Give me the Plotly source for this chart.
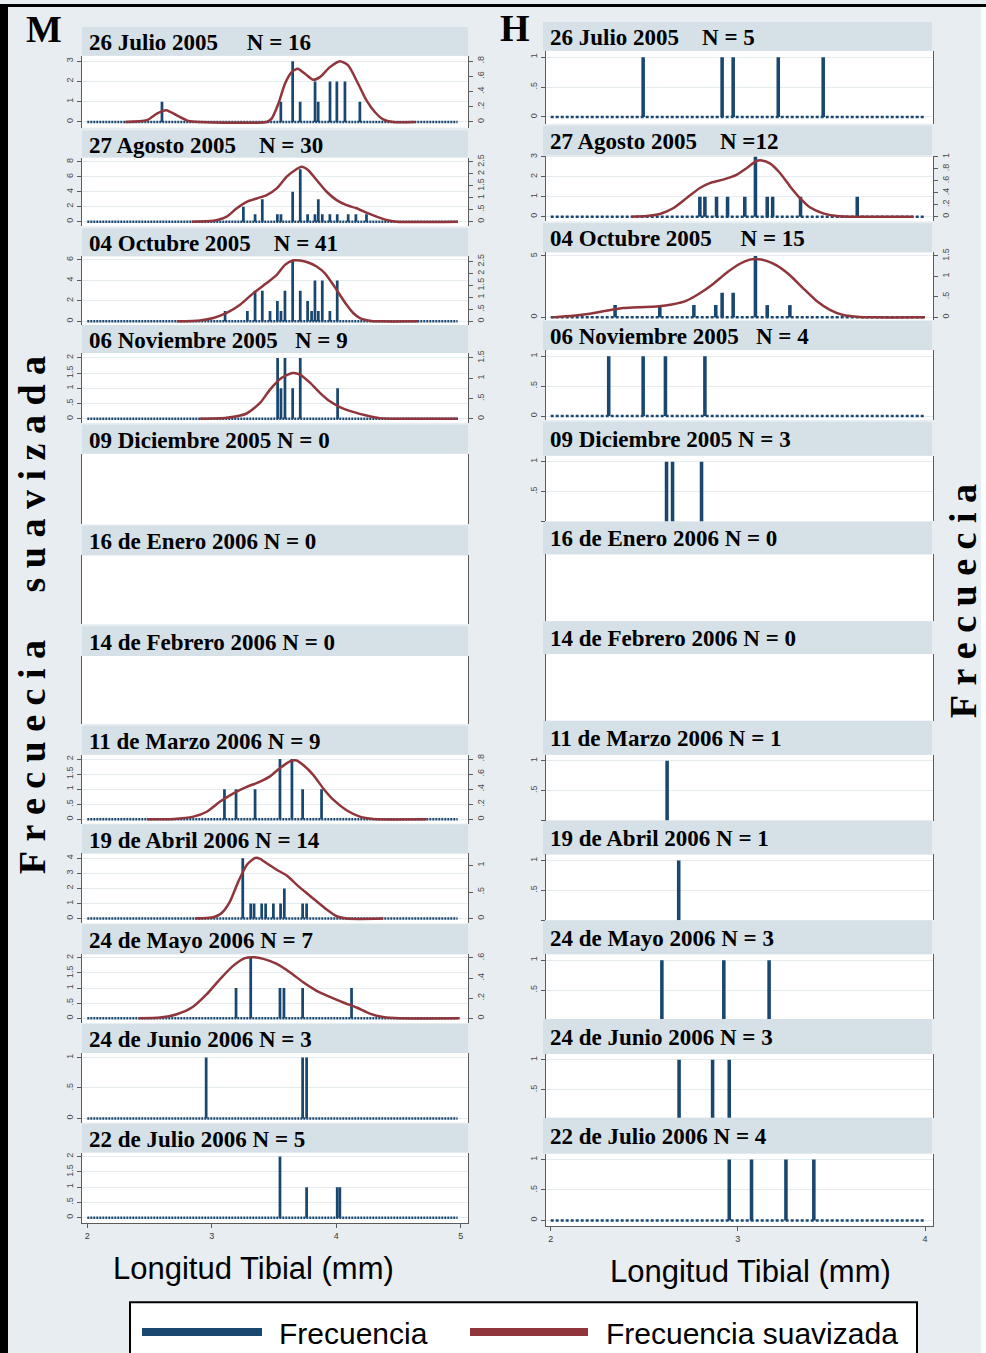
import numpy as np
import plotly.graph_objects as go

W, H = 986, 1353

BG = "#e7edf0"
STRIP = "#d5e0e7"
BLUE = "#1a476f"
RED = "#90353b"
AXIS = "#5c5c5c"
GRID = "#e4ecef"
SERIF = "Liberation Serif"
SANS = "Liberation Sans"
NB = "\u00a0"

# ---------------------------------------------------------------- M (left)
m_titles = [
    "26 Julio 2005" + NB * 5 + "N = 16",
    "27 Agosto 2005" + NB * 4 + "N = 30",
    "04 Octubre 2005" + NB * 4 + "N = 41",
    "06 Noviembre 2005" + NB * 3 + "N = 9",
    "09 Diciembre 2005 N = 0",
    "16 de Enero 2006 N = 0",
    "14 de Febrero 2006 N = 0",
    "11 de Marzo 2006 N = 9",
    "19 de Abril 2006 N = 14",
    "24 de Mayo 2006 N = 7",
    "24 de Junio 2006 N = 3",
    "22 de Julio 2006 N = 5",
]

# tibia length (mm) and number of individuals
m01_len = [2.60, 3.555, 3.65, 3.71, 3.83, 3.855, 3.95, 4.005, 4.07, 4.19]
m01_cnt = [1, 1, 3, 1, 2, 1, 2, 2, 2, 1]
m02_len = [3.254, 3.348, 3.406, 3.527, 3.556, 3.650, 3.711, 3.770, 3.829, 3.856,
           3.888, 3.949, 4.008, 4.096, 4.158, 4.243]
m02_cnt = [2, 1, 3, 1, 1, 4, 7, 1, 1, 3, 1, 1, 1, 1, 1, 1]
m03_len = [3.107, 3.286, 3.348, 3.406, 3.468, 3.527, 3.556, 3.588, 3.650, 3.711,
           3.770, 3.802, 3.829, 3.856, 3.888, 3.949, 4.008]
m03_cnt = [1, 1, 3, 3, 1, 2, 1, 3, 6, 3, 2, 1, 4, 1, 4, 1, 4]
m04_len = [3.529, 3.556, 3.588, 3.650, 3.711, 4.011]
m04_cnt = [2, 1, 2, 1, 2, 1]
m05_len, m05_cnt = [], []
m06_len, m06_cnt = [], []
m07_len, m07_cnt = [], []
m08_len = [3.102, 3.195, 3.348, 3.548, 3.644, 3.730, 3.882]
m08_cnt = [1, 1, 1, 2, 2, 1, 1]
m09_len = [3.249, 3.313, 3.340, 3.401, 3.433, 3.495, 3.553, 3.583, 3.730, 3.762]
m09_cnt = [4, 1, 1, 1, 1, 1, 1, 2, 1, 1]
m10_len = [3.195, 3.313, 3.548, 3.580, 3.730, 4.123]
m10_cnt = [1, 2, 1, 1, 1, 1]
m11_len = [2.955, 3.730, 3.762]
m11_cnt = [1, 1, 1]
m12_len = [3.548, 3.762, 4.008, 4.029]
m12_cnt = [2, 1, 1, 1]

# smoothed frequency (kernel density)
m01_kx = [2.305, 2.479, 2.559, 2.634, 2.719, 2.813, 2.906, 3.441, 3.481, 3.535, 3.588,
          3.642, 3.690, 3.749, 3.815, 3.869, 3.949, 4.029, 4.096, 4.176, 4.243, 4.310,
          4.377, 4.457, 4.631]
m01_ky = [0, 0.022, 0.109, 0.153, 0.087, 0.013, 0, 0, 0.044, 0.240, 0.503, 0.656, 0.699,
          0.634, 0.555, 0.590, 0.721, 0.80, 0.743, 0.503, 0.284, 0.131, 0.035, 0, 0]
m02_kx = [2.840, 3.013, 3.120, 3.201, 3.281, 3.361, 3.441, 3.522, 3.602, 3.668, 3.722,
          3.775, 3.842, 3.923, 4.003, 4.083, 4.163, 4.243, 4.324, 4.404, 4.484, 4.978]
m02_ky = [0, 0.04, 0.21, 0.56, 0.83, 0.97, 1.11, 1.39, 1.88, 2.15, 2.29, 2.15, 1.74,
          1.25, 0.90, 0.69, 0.56, 0.375, 0.21, 0.07, 0, 0]
m03_kx = [2.719, 2.906, 3.013, 3.120, 3.227, 3.334, 3.441, 3.522, 3.588, 3.650, 3.709,
          3.775, 3.842, 3.909, 3.976, 4.029, 4.083, 4.136, 4.190, 4.270, 4.350, 4.657]
m03_ky = [0, 0.04, 0.14, 0.35, 0.69, 1.18, 1.60, 1.94, 2.36, 2.54, 2.54, 2.46, 2.29,
          2.01, 1.53, 1.11, 0.69, 0.35, 0.14, 0.03, 0, 0]
m04_kx = [2.906, 3.120, 3.281, 3.388, 3.468, 3.562, 3.650, 3.709, 3.789, 3.869, 3.949,
          4.029, 4.136, 4.243, 4.350, 4.457, 4.978]
m04_ky = [0, 0.025, 0.13, 0.39, 0.72, 1.01, 1.13, 1.09, 0.89, 0.64, 0.43, 0.29, 0.17,
          0.08, 0.016, 0, 0]
m08_kx = [2.479, 2.693, 2.853, 2.960, 3.067, 3.174, 3.281, 3.388, 3.468, 3.548, 3.628,
          3.682, 3.735, 3.815, 3.896, 3.976, 4.083, 4.190, 4.297, 4.725]
m08_ky = [0, 0.004, 0.035, 0.10, 0.235, 0.345, 0.43, 0.50, 0.57, 0.68, 0.77, 0.78, 0.72,
          0.59, 0.41, 0.26, 0.12, 0.035, 0.004, 0]
m09_kx = [2.866, 3.013, 3.080, 3.147, 3.214, 3.281, 3.348, 3.388, 3.441, 3.522, 3.602,
          3.682, 3.762, 3.842, 3.923, 4.003, 4.083, 4.377]
m09_ky = [0, 0.025, 0.106, 0.325, 0.70, 1.01, 1.14, 1.125, 1.04, 0.92, 0.81, 0.64, 0.48,
          0.325, 0.17, 0.044, 0, 0]
m10_kx = [2.412, 2.586, 2.719, 2.840, 2.960, 3.067, 3.174, 3.267, 3.334, 3.415, 3.522,
          3.628, 3.735, 3.842, 3.949, 4.056, 4.163, 4.270, 4.377, 4.511, 4.992]
m10_ky = [0, 0.007, 0.04, 0.107, 0.24, 0.39, 0.523, 0.597, 0.607, 0.59, 0.54, 0.457,
          0.357, 0.273, 0.213, 0.157, 0.107, 0.047, 0.013, 0, 0]

# ---------------------------------------------------------------- H (right)
h_titles = [
    "26 Julio 2005" + NB * 4 + "N = 5",
    "27 Agosto 2005" + NB * 4 + "N =12",
    "04 Octubre 2005" + NB * 5 + "N = 15",
    "06 Noviembre 2005" + NB * 3 + "N = 4",
    "09 Diciembre 2005 N = 3",
    "16 de Enero 2006 N = 0",
    "14 de Febrero 2006 N = 0",
    "11 de Marzo 2006 N = 1",
    "19 de Abril 2006 N = 1",
    "24 de Mayo 2006 N = 3",
    "24 de Junio 2006 N = 3",
    "22 de Julio 2006 N = 4",
]

h01_len = [2.494, 2.916, 2.975, 3.216, 3.456]
h01_cnt = [1, 1, 1, 1, 1]
h02_len = [2.797, 2.824, 2.886, 2.945, 3.037, 3.094, 3.157, 3.186, 3.335, 3.638]
h02_cnt = [1, 1, 1, 1, 1, 3, 1, 1, 1, 1]
h03_len = [2.344, 2.583, 2.765, 2.882, 2.916, 2.975, 3.094, 3.157, 3.278]
h03_cnt = [1, 1, 1, 1, 2, 2, 5, 1, 1]
h04_len = [2.310, 2.494, 2.613, 2.824]
h04_cnt = [1, 1, 1, 1]
h05_len = [2.619, 2.651, 2.806]
h05_cnt = [1, 1, 1]
h06_len, h06_cnt = [], []
h07_len, h07_cnt = [], []
h08_len = [2.622]
h08_cnt = [1]
h09_len = [2.684]
h09_cnt = [1]
h10_len = [2.594, 2.925, 3.167]
h10_cnt = [1, 1, 1]
h11_len = [2.686, 2.865, 2.954]
h11_cnt = [1, 1, 1]
h12_len = [2.954, 3.073, 3.257, 3.406]
h12_cnt = [1, 1, 1, 1]

h02_kx = [2.431, 2.512, 2.583, 2.654, 2.726, 2.797, 2.850, 2.921, 2.993, 3.046, 3.100,
          3.127, 3.171, 3.225, 3.278, 3.332, 3.385, 3.456, 3.528, 3.599, 3.937]
h02_ky = [0, 0.011, 0.045, 0.14, 0.31, 0.48, 0.56, 0.62, 0.70, 0.81, 0.93, 0.94, 0.89,
          0.73, 0.51, 0.31, 0.157, 0.056, 0.011, 0, 0]
h03_kx = [2.009, 2.119, 2.209, 2.298, 2.387, 2.476, 2.565, 2.654, 2.726, 2.797, 2.868,
          2.940, 3.011, 3.064, 3.109, 3.153, 3.207, 3.278, 3.349, 3.421, 3.492, 3.563,
          3.635, 3.724, 4.000]
h03_ky = [0, 0.04, 0.089, 0.16, 0.226, 0.25, 0.266, 0.32, 0.41, 0.59, 0.815, 1.09, 1.31,
          1.41, 1.42, 1.38, 1.27, 1.03, 0.71, 0.40, 0.185, 0.056, 0.016, 0, 0]

m_len = [m01_len, m02_len, m03_len, m04_len, m05_len, m06_len, m07_len, m08_len,
         m09_len, m10_len, m11_len, m12_len]
m_cnt = [m01_cnt, m02_cnt, m03_cnt, m04_cnt, m05_cnt, m06_cnt, m07_cnt, m08_cnt,
         m09_cnt, m10_cnt, m11_cnt, m12_cnt]
m_kde = [(m01_kx, m01_ky), (m02_kx, m02_ky), (m03_kx, m03_ky), (m04_kx, m04_ky),
         None, None, None, (m08_kx, m08_ky), (m09_kx, m09_ky), (m10_kx, m10_ky),
         None, None]
h_len = [h01_len, h02_len, h03_len, h04_len, h05_len, h06_len, h07_len, h08_len,
         h09_len, h10_len, h11_len, h12_len]
h_cnt = [h01_cnt, h02_cnt, h03_cnt, h04_cnt, h05_cnt, h06_cnt, h07_cnt, h08_cnt,
         h09_cnt, h10_cnt, h11_cnt, h12_cnt]
h_kde = [None, (h02_kx, h02_ky), (h03_kx, h03_ky)] + [None] * 9

# ---------------------------------------------------------------- layout specs
# (strip top, plot top, plot bottom, px of top tick, px of zero) in page pixels
m_geom = [
    (23, 52, 124, 57.3, 118.3), (127, 154, 223, 158.3, 218.3),
    (225, 253, 322, 256.7, 318.3), (322, 350, 420, 355.0, 416.0),
    (422, 451, 522, None, None), (523, 553, 622, None, None),
    (624, 654, 722, None, None), (724, 753, 822, 757.3, 817.7),
    (823, 852, 922, 856.7, 917.3), (923, 953, 1022, 956.7, 1017.3),
    (1023, 1052, 1122, 1056.7, 1117.7), (1123, 1152, 1223, 1156.0, 1217.3),
]
m_left = [(3, 1), (8, 2), (6, 2), (2, .5), None, None, None, (2, .5), (4, 1),
          (2, .5), (1, .5), (2, .5)]
m_right = [(.8, .2, 57.3), (2.5, .5, 158.3), (2.5, .5, 258.3), (1.5, .5, 355.0),
           None, None, None, (.8, .2, 757.3), (1, .5, 864.0), (.6, .2, 956.7),
           None, None]
m_base = [True] * 4 + [False] * 3 + [True] * 5

h_geom = [
    (18, 47, 120, 53.3, 113.3), (122, 152, 218, 153.3, 213.3),
    (220, 249, 317, 252.7, 314.3), (318, 347, 417, 353.3, 413.3),
    (419, 453, 519, 459.0, 519.0), (519, 552, 619, None, None),
    (619, 652, 719, None, None), (719, 753, 819, 759.0, 819.0),
    (819, 853, 919, 859.0, 919.0), (919, 953, 1018, 959.0, 1019.0),
    (1018, 1053, 1117, 1059.0, 1119.0), (1117, 1153, 1226, 1159.0, 1220.0),
]
h_left = [(1, .5), (3, 1), (5, 5), (1, .5), (1, .5), None, None, (1, .5), (1, .5),
          (1, .5), (1, .5), (1, .5)]
h_right = [None, (1, .2, 153.3), (1.5, .5, 252.7)] + [None] * 9
h_base = [True] * 4 + [False] * 7 + [True]

columns = [
    dict(letter="M", letter_xy=(44, 25), titles=m_titles, lens=m_len, cnts=m_cnt,
         kdes=m_kde, geom=m_geom, left=m_left, right=m_right, base=m_base,
         plot_x=(82, 468), strip_x=(82, 468), x_ticks=[2, 3, 4, 5],
         x_px=((2, 87.3), (5, 460.7)), title_x=87, bar_w=0.022,
         base_span=(2.0, 4.975), dash="2px,1px"),
    dict(letter="H", letter_xy=(515, 24), titles=h_titles, lens=h_len, cnts=h_cnt,
         kdes=h_kde, geom=h_geom, left=h_left, right=h_right, base=h_base,
         plot_x=(545.7, 933), strip_x=(543, 932), x_ticks=[2, 3, 4],
         x_px=((2, 550.7), (4, 925.0)), title_x=548, bar_w=0.019,
         base_span=(2.0, 4.0), dash="3px,2px"),
]


def fx(px):
    return px / W


def fy(py):
    return 1 - py / H


def lab(v):
    s = f"{v:g}"
    return s[1:] if s.startswith("0.") else s


def ticks(top, step):
    return [float(v) for v in np.round(np.arange(0, top + step / 2, step), 6)]


def ax_key(kind, n):
    return f"{kind}axis" if n == 1 else f"{kind}axis{n}"


def ax_ref(kind, n):
    return kind if n == 1 else f"{kind}{n}"


fig = go.Figure()
layout = {}
shapes = []
annotations = []
TICKFONT = dict(family=SANS, size=9, color="#4a4a4a")

n_panels = sum(len(c["titles"]) for c in columns)
extra = n_panels  # counter for density (right-hand) axes

pid = 0
for col in columns:
    (v0, p0), (v1, p1) = col["x_px"]
    sx = (p1 - p0) / (v1 - v0)
    xr = [v0 - (p0 - col["plot_x"][0]) / sx, v1 + (col["plot_x"][1] - p1) / sx]
    last = len(col["titles"]) - 1
    for i, title in enumerate(col["titles"]):
        pid += 1
        xa, ya = ax_ref("x", pid), ax_ref("y", pid)
        ht, pt, pb, tpx, zpx = col["geom"][i]
        left = col["left"][i]
        right = col["right"][i]
        bottom = i == last

        # header strip with the sampling date
        shapes.append(dict(type="rect", xref="paper", yref="paper",
                           x0=fx(col["strip_x"][0]), x1=fx(col["strip_x"][1]),
                           y0=fy(pt), y1=fy(ht), fillcolor=STRIP,
                           line=dict(width=0), layer="below"))
        annotations.append(dict(text=title, xref="paper", yref="paper",
                                x=fx(col["title_x"]), y=fy((ht + pt) / 2 + 1),
                                xanchor="left", yanchor="middle", showarrow=False,
                                font=dict(family=SERIF, size=23, color="black",
                                          weight="bold")))

        # left (frequency) axis
        if left is None:
            yr = [0, 1]
            tv, tt = [], []
        else:
            top, step = left
            sy = (zpx - tpx) / top
            yr = [-(pb - zpx) / sy, top + (tpx - pt) / sy]
            tv = ticks(top, step)
            tt = [lab(v) for v in tv]
            if not col["base"][i]:
                tt[0] = ""
        layout[ax_key("x", pid)] = dict(
            domain=[fx(col["plot_x"][0]), fx(col["plot_x"][1])], anchor=ya,
            range=xr, showgrid=False, zeroline=False, fixedrange=True,
            showline=bottom, linecolor=AXIS, linewidth=1,
            ticks="outside" if bottom else "", ticklen=4, tickcolor=AXIS,
            tickmode="array", tickvals=col["x_ticks"] if bottom else [],
            showticklabels=bottom,
            tickfont=dict(family=SANS, size=9, color="#3a3a3a"))
        layout[ax_key("y", pid)] = dict(
            domain=[fy(pb), fy(pt)], anchor=xa, range=yr, fixedrange=True,
            tickmode="array", tickvals=tv, ticktext=tt, tickangle=-90,
            ticks="outside" if tv else "", ticklen=4, tickcolor=AXIS,
            tickfont=TICKFONT, showline=True, linecolor=AXIS, linewidth=1,
            mirror=right is None, showgrid=bool(tv), gridcolor=GRID, gridwidth=1,
            zeroline=False)

        lens, cnts = col["lens"][i], col["cnts"][i]
        if col["base"][i]:
            fig.add_trace(go.Scatter(
                x=list(col["base_span"]), y=[0, 0], mode="lines",
                line=dict(color=BLUE, width=2.5, dash=col["dash"]),
                xaxis=xa, yaxis=ya, hoverinfo="skip", showlegend=False))
        if lens:
            fig.add_trace(go.Bar(
                x=lens, y=cnts, width=[col["bar_w"]] * len(lens),
                marker=dict(color=BLUE, line=dict(width=0)),
                xaxis=xa, yaxis=ya, showlegend=False, name="Frecuencia"))
        else:
            fig.add_trace(go.Scatter(x=[], y=[], xaxis=xa, yaxis=ya,
                                     showlegend=False))

        # right (smoothed frequency) axis
        if right is not None:
            extra += 1
            ry = ax_ref("y", extra)
            rtop, rstep, rpx = right
            rs = (zpx - rpx) / rtop
            rv = ticks(rtop, rstep)
            layout[ax_key("y", extra)] = dict(
                overlaying=ya, side="right", anchor=xa,
                range=[-(pb - zpx) / rs, (zpx - pt) / rs], fixedrange=True,
                tickmode="array", tickvals=rv, ticktext=[lab(v) for v in rv],
                tickangle=-90, ticks="outside", ticklen=4, tickcolor=AXIS,
                tickfont=TICKFONT, showline=True, linecolor=AXIS, linewidth=1,
                showgrid=False, zeroline=False)
            kx, ky = col["kdes"][i]
            fig.add_trace(go.Scatter(
                x=kx, y=ky, mode="lines",
                line=dict(color=RED, width=2.5, shape="spline", smoothing=0.6),
                xaxis=xa, yaxis=ry, showlegend=False, name="Frecuencia suavizada"))

    annotations.append(dict(text=col["letter"], xref="paper", yref="paper",
                            x=fx(col["letter_xy"][0]), y=fy(col["letter_xy"][1]),
                            xanchor="center", yanchor="middle", showarrow=False,
                            font=dict(family=SERIF, size=38, color="black",
                                      weight="bold")))

# axis titles
spaced = lambda w: NB.join(w)
annotations.append(dict(
    text=spaced("Frecuecia") + NB * 5 + spaced("suavizada"), textangle=-90,
    xref="paper", yref="paper", x=fx(32), y=fy(613), xanchor="center",
    yanchor="middle", showarrow=False,
    font=dict(family=SERIF, size=38, color="black", weight="bold")))
annotations.append(dict(
    text=spaced("Frecuecia"), textangle=-90,
    xref="paper", yref="paper", x=fx(963), y=fy(599), xanchor="center",
    yanchor="middle", showarrow=False,
    font=dict(family=SERIF, size=38, color="black", weight="bold")))
for cx, cy in [(253, 1268), (750, 1271)]:
    annotations.append(dict(text="Longitud Tibial (mm)", xref="paper", yref="paper",
                            x=fx(cx), y=fy(cy), xanchor="center", yanchor="middle",
                            showarrow=False,
                            font=dict(family=SANS, size=31, color="black")))

# key
shapes.append(dict(type="rect", xref="paper", yref="paper", x0=fx(130), x1=fx(917),
                   y0=fy(1365), y1=fy(1302), fillcolor="white",
                   line=dict(color="black", width=2)))
shapes.append(dict(type="line", xref="paper", yref="paper", x0=fx(142), x1=fx(262),
                   y0=fy(1332), y1=fy(1332), line=dict(color=BLUE, width=8)))
shapes.append(dict(type="line", xref="paper", yref="paper", x0=fx(470), x1=fx(588),
                   y0=fy(1332), y1=fy(1332), line=dict(color=RED, width=8)))
for tx, txt in [(277, "Frecuencia"), (604, "Frecuencia suavizada")]:
    annotations.append(dict(text=txt, xref="paper", yref="paper", x=fx(tx),
                            y=fy(1333), xanchor="left", yanchor="middle",
                            showarrow=False,
                            font=dict(family=SANS, size=30, color="black")))

# page frame
shapes.append(dict(type="rect", xref="paper", yref="paper", x0=0, x1=fx(8), y0=0,
                   y1=1, fillcolor="black", line=dict(width=0)))
shapes.append(dict(type="rect", xref="paper", yref="paper", x0=0, x1=1, y0=fy(3),
                   y1=1, fillcolor="black", line=dict(width=0)))
shapes.append(dict(type="rect", xref="paper", yref="paper", x0=fx(981), x1=1,
                   y0=0, y1=fy(3), fillcolor="#fbfcfc", line=dict(width=0)))

fig.update_layout(
    width=W, height=H, autosize=False,
    margin=dict(l=0, r=0, t=0, b=0, pad=0),
    paper_bgcolor=BG, plot_bgcolor="white",
    barmode="overlay", showlegend=False,
    font=dict(family=SANS),
    shapes=shapes, annotations=annotations,
    **layout,
)

fig.write_html("out.html")
